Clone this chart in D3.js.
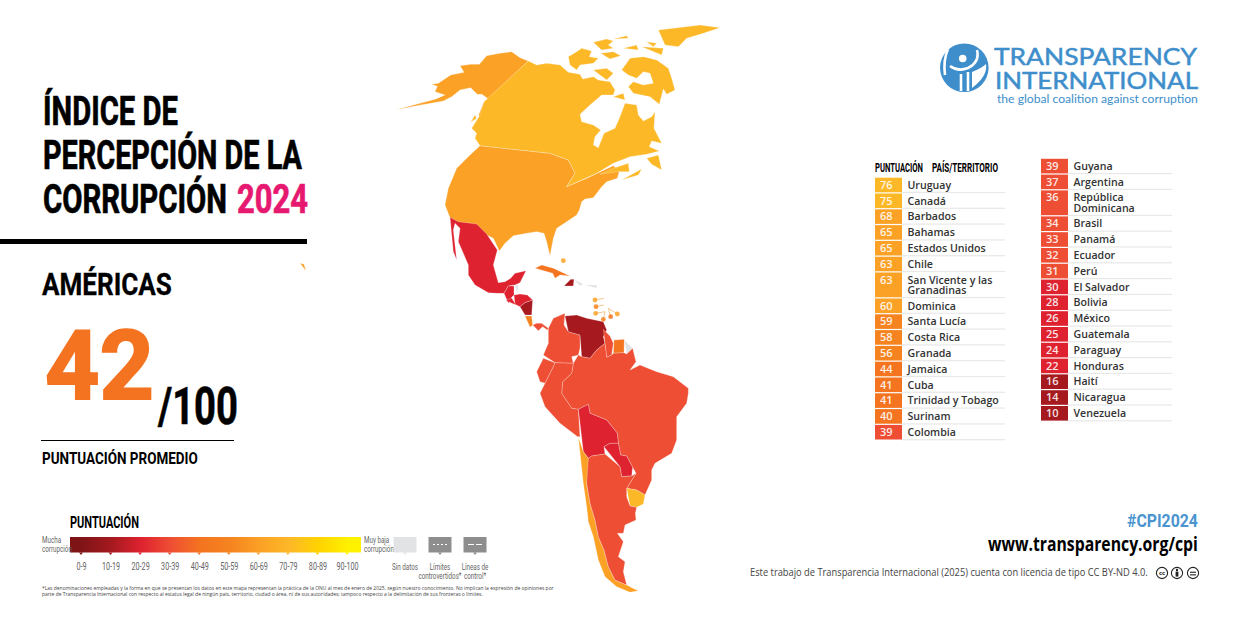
<!DOCTYPE html>
<html lang="es">
<head>
<meta charset="utf-8">
<title>Índice de Percepción de la Corrupción 2024 - Américas</title>
<script src="https://cdn.jsdelivr.net/npm/d3@7"></script>
<style>
  html, body { margin: 0; background: #fff; }
  svg { display: block; }
</style>
</head>
<body>
<svg id="chart" width="1238" height="620"></svg>
<script>
// tabla
const leftNames = ["Uruguay", "Canadá", "Barbados", "Bahamas", "Estados Unidos", "Chile", "San Vicente y las\nGranadinas", "Dominica", "Santa Lucía", "Costa Rica", "Granada", "Jamaica", "Cuba", "Trinidad y Tobago", "Surinam", "Colombia"];
const leftScores = [76, 75, 68, 65, 65, 63, 63, 60, 59, 58, 56, 44, 41, 41, 40, 39];
const rightNames = ["Guyana", "Argentina", "República\nDominicana", "Brasil", "Panamá", "Ecuador", "Perú", "El Salvador", "Bolivia", "México", "Guatemala", "Paraguay", "Honduras", "Haití", "Nicaragua", "Venezuela"];
const rightScores = [39, 37, 36, 34, 33, 32, 31, 30, 28, 26, 25, 24, 22, 16, 14, 10];

// leyenda
const legendLabels = ["0-9", "10-19", "20-29", "30-39", "40-49", "50-59", "60-69", "70-79", "80-89", "90-100"];
const binColors = ["#7f1416", "#a5191f", "#de2230", "#ee4e33", "#f4741f", "#f58420", "#fba126", "#fdb827", "#ffd400", "#fff200"];
const binBreaks = [10, 20, 31, 40, 50, 60, 70, 80, 90];

// contornos del mapa (rejilla propia del mapa)
const shapes = [
  ["Estados Unidos", [[445,138],[420,128],[395,110],[360,115],[320,122],[298,148],[272,148],[240,152],[252,172],[212,180],[175,205],[155,208],[172,214],[165,230],[195,240],[168,252],[120,265],[48,284],[110,272],[190,258],[215,245],[240,225],[272,218],[292,238],[306,238],[325,252],[318,275],[300,310],[296,300],[310,265],[306,238]]],
  ["Estados Unidos", [[300,392],[510,415],[565,435],[585,475],[560,515],[620,490],[700,452],[718,468],[712,490],[680,500],[665,515],[640,548],[615,552],[605,560],[598,585],[590,600],[560,620],[530,640],[520,670],[510,722],[500,680],[492,655],[470,650],[440,655],[400,662],[375,685],[358,708],[340,670],[320,660],[290,630],[235,622],[210,608],[195,570],[205,520],[230,460],[270,420],[290,412]]],
  ["Estados Unidos", [[-240,745],[-228,748],[-222,768],[-232,762]]],
  ["Estados Unidos", [[2530,172],[2555,172],[2545,176]]],
  ["Canadá", [[445,138],[470,150],[500,145],[540,150],[565,172],[600,178],[608,192],[640,185],[655,195],[690,200],[705,225],[700,240],[665,240],[630,270],[600,298],[605,320],[640,330],[662,345],[645,365],[640,390],[655,398],[672,355],[705,340],[718,310],[735,265],[770,270],[775,300],[790,318],[815,305],[825,290],[822,340],[845,385],[815,378],[808,395],[838,408],[800,418],[750,425],[700,445],[650,475],[605,495],[560,515],[585,475],[565,435],[510,415],[300,392],[285,370],[290,355],[275,340],[300,300],[312,260],[306,238]]],
  ["Canadá", [[272,322],[285,300],[290,310],[278,332]]],
  ["Canadá", [[565,125],[590,110],[605,100],[635,108],[628,125],[655,130],[640,145],[600,150],[590,165],[570,150],[580,135]]],
  ["Canadá", [[640,165],[680,160],[700,175],[680,195],[650,180]]],
  ["Canadá", [[640,82],[680,72],[700,78],[685,90],[700,100],[665,105],[650,95]]],
  ["Canadá", [[662,115],[700,110],[722,122],[690,132],[668,128]]],
  ["Canadá", [[700,72],[740,62],[745,70],[720,85]]],
  ["Canadá", [[730,100],[770,90],[775,105],[740,115]]],
  ["Canadá", [[770,60],[785,60],[780,75]]],
  ["Canadá", [[785,95],[850,100],[845,120],[790,115]]],
  ["Canadá", [[835,45],[880,40],[960,30],[1020,38],[970,55],[920,70],[895,95],[855,90],[830,70]]],
  ["Canadá", [[800,80],[830,85],[820,95],[795,90]]],
  ["Canadá", [[750,130],[790,125],[830,135],[865,160],[875,190],[885,225],[860,238],[850,222],[838,268],[810,245],[785,240],[760,235],[745,215],[760,200],[790,210],[820,205],[810,175],[790,170],[770,190],[745,180],[725,165],[735,145]]],
  ["Canadá", [[700,245],[730,235],[735,255],[710,262]]],
  ["Canadá", [[800,430],[835,420],[845,465],[815,448],[800,455]]],
  ["Canadá", [[725,495],[770,470],[785,462],[775,480],[730,500]]],
  ["Canadá", [[660,478],[700,460],[745,445],[748,470],[712,470],[700,452]]],
  ["México", [[210,607],[235,620],[290,627],[320,657],[352,705],[340,750],[355,803],[375,800],[392,790],[405,775],[438,767],[420,803],[405,810],[385,813],[372,835],[350,835],[325,833],[285,810],[265,780],[265,750],[235,680],[240,640],[225,625],[220,645],[230,735],[220,710],[205,675]]],
  ["Guatemala", [[372,835],[385,813],[402,813],[402,840],[395,847],[385,865],[370,857]]],
  ["Belice", [[405,810],[415,810],[412,837],[404,840]]],
  ["Honduras", [[402,840],[420,837],[442,840],[458,855],[435,863],[420,875],[405,868],[395,850]]],
  ["El Salvador", [[378,857],[395,849],[408,870],[392,870]]],
  ["Nicaragua", [[420,875],[435,863],[458,855],[455,900],[435,900],[415,883]]],
  ["Costa Rica", [[435,903],[455,903],[458,930],[450,937],[430,920]]],
  ["Panamá", [[458,930],[470,925],[485,925],[505,940],[502,945],[488,935],[475,947],[462,940]]],
  ["Colombia", [[505,940],[520,910],[555,895],[552,930],[565,950],[600,960],[600,1000],[595,1020],[575,1025],[580,1045],[525,1043],[490,1020],[505,985],[500,960]]],
  ["Venezuela", [[555,903],[590,900],[620,910],[670,920],[680,945],[670,965],[675,985],[650,1005],[630,1030],[605,1025],[600,960],[565,950],[552,930]]],
  ["Guyana", [[670,943],[690,963],[700,985],[695,1020],[680,1027],[675,985],[670,965]]],
  ["Surinam", [[702,975],[733,973],[732,1013],[700,1015],[695,1000]]],
  ["Guayana Francesa", [[733,975],[758,1000],[740,1017],[732,1013]]],
  ["Brasil", [[595,1020],[605,1025],[630,1030],[650,1005],[675,985],[680,1027],[695,1020],[700,1015],[732,1013],[740,1017],[758,1000],[768,1040],[750,1065],[780,1050],[800,1058],[830,1070],[880,1085],[925,1120],[925,1135],[920,1165],[890,1205],[890,1275],[875,1315],[825,1345],[815,1365],[815,1395],[795,1440],[770,1425],[740,1420],[768,1375],[758,1357],[740,1323],[722,1320],[715,1285],[712,1255],[680,1215],[630,1195],[625,1168],[595,1183],[575,1180],[545,1135],[548,1100],[575,1075],[580,1045],[575,1025]]],
  ["Ecuador", [[470,1070],[490,1030],[525,1043],[520,1055],[495,1105],[480,1100],[470,1085]]],
  ["Perú", [[495,1105],[520,1055],[525,1043],[580,1045],[575,1075],[548,1100],[545,1135],[575,1180],[595,1183],[600,1265],[593,1265],[540,1225],[495,1175],[480,1135],[480,1100]]],
  ["Bolivia", [[595,1183],[625,1168],[630,1195],[680,1215],[712,1255],[715,1285],[690,1285],[672,1295],[675,1317],[635,1323],[625,1330],[610,1310],[600,1265]]],
  ["Paraguay", [[672,1295],[690,1285],[715,1285],[722,1320],[740,1323],[758,1357],[755,1383],[725,1385],[720,1355],[675,1317]]],
  ["Uruguay", [[740,1420],[770,1425],[795,1440],[790,1467],[770,1477],[750,1473],[740,1445]]],
  ["Chile", [[595,1267],[610,1310],[625,1330],[628,1355],[620,1405],[630,1465],[645,1515],[655,1565],[672,1605],[685,1655],[705,1695],[740,1710],[775,1727],[750,1732],[710,1715],[675,1685],[655,1635],[640,1565],[625,1520],[620,1475],[610,1405],[600,1325]]],
  ["Argentina", [[625,1330],[635,1323],[675,1317],[720,1355],[725,1385],[755,1383],[768,1375],[740,1420],[740,1445],[750,1473],[770,1477],[766,1495],[768,1515],[735,1530],[730,1555],[712,1555],[730,1580],[715,1625],[735,1640],[730,1670],[740,1710],[705,1695],[685,1655],[672,1605],[655,1565],[645,1515],[630,1465],[620,1405],[628,1355]]],
  ["Argentina", [[750,1715],[778,1727],[760,1725]]],
  ["Cuba", [[465,760],[485,750],[520,760],[570,783],[540,780],[525,790],[518,775],[480,760]]],
  ["Jamaica", [[515,810],[535,813],[525,817]]],
  ["Haití", [[572,793],[582,793],[580,813],[552,813],[570,807]]],
  ["República Dominicana", [[582,793],[610,807],[600,813],[580,813]]],
  ["Puerto Rico", [[615,810],[650,810],[650,820],[620,818]]],
  ["Bahamas", [[530,697],[538,703],[532,715]]],
  ["Bahamas", [[538,713],[548,720],[540,732]]],
  ["Bahamas", [[555,700],[562,712],[555,716]]],
  ["Bahamas", [[565,745],[575,752],[566,757]]],
  ["Bahamas", [[575,765],[585,770],[578,775]]],
  ["Ecuador", [[362,1048],[372,1050],[368,1056]]],
  ["Malvinas", [[805,1685],[820,1683],[815,1690]]]
];

// islas pequeñas marcadas con circulo: [nombre, punto, isla]
const islandDots = [
  ["Bahamas", [550, 737], [550, 737]],
  ["Dominica", [645, 855], [672, 850]],
  ["Santa Lucía", [648, 875], [672, 870]],
  ["San Vicente y las\nGranadinas", [647, 895], [675, 890]],
  ["Granada", [670, 913], [675, 890]],
  ["Trinidad y Tobago", [692, 905], [685, 880]],
  ["Barbados", [712, 897], [685, 880]]
];

const footnotes = [
  "*Las denominaciones empleadas y la forma en que se presentan los datos en este mapa representan la práctica de la ONU al mes de enero de 2025, según nuestro conocimiento. No implican la expresión de opiniones por",
  "parte de Transparencia Internacional con respecto al estatus legal de ningún país, territorio, ciudad o área, ni de sus autoridades; tampoco respecto a la delimitación de sus fronteras o límites."
];

const narrow = "'Liberation Sans Narrow', 'Roboto', sans-serif";
const sans = "'Open Sans', 'Noto Sans', sans-serif";
const svg = d3.select("#chart");
const NODATA = "#e1e3e4";

const color = d3.scaleThreshold().domain(binBreaks).range(binColors);
const scoreOf = new Map(d3.zip(leftNames.concat(rightNames), leftScores.concat(rightScores)));
const countryFill = name => scoreOf.has(name) ? color(scoreOf.get(name)) : NODATA;

// aprieta un texto en horizontal con un transform, para imitar la tipografia condensada
function squeeze(sel, k) {
  sel.each(function () {
    const t = d3.select(this);
    const x = +t.attr("x") || 0;
    const y = +t.attr("y") || 0;
    t.attr("x", 0).attr("y", 0)
      .attr("transform", `translate(${x},${y}) scale(${k},1)`);
  });
}

function label(parent, str, x, y, size, width, opts = {}) {
  const t = parent.append("text")
    .attr("x", x).attr("y", y)
    .attr("font-family", opts.font || narrow)
    .attr("font-size", size)
    .attr("font-weight", opts.weight || "bold")
    .attr("fill", opts.fill || "#000")
    .attr("text-anchor", opts.anchor || "start")
    .text(str);
  if (opts.heavy) t.attr("stroke", opts.fill || "#000").attr("stroke-width", opts.heavy);
  if (width) t.call(squeeze, width / t.node().getComputedTextLength());
  return t;
}

/* Titulo */
label(svg, "ÍNDICE DE", 43, 125, 40, 135, { heavy: 0.7 });
label(svg, "PERCEPCIÓN DE LA", 43, 169, 40, 259, { heavy: 0.7 });
label(svg, "CORRUPCIÓN", 43, 213, 40, 184, { heavy: 0.7 });
label(svg, "2024", 237, 213, 40, 71, { fill: "#e6186f", heavy: 0.7 });
svg.append("rect").attr("x", 0).attr("y", 239).attr("width", 307).attr("height", 5).attr("fill", "#000");

label(svg, "AMÉRICAS", 42, 295, 31, 130, { heavy: 0.3 });
label(svg, "42", 45, 399, 97, 109, { fill: "#f47321", heavy: 2 });
label(svg, "/100", 158, 424, 52, 80, { heavy: 0.6 });
svg.append("rect").attr("x", 41).attr("y", 440).attr("width", 193).attr("height", 1).attr("fill", "#000");
label(svg, "PUNTUACIÓN PROMEDIO", 42, 464, 16, 156);

/* Mapa */
const projection = d3.geoIdentity().scale(1 / 3).translate([380, 15]);
const mapPath = d3.geoPath(projection);
const features = shapes.map(([name, ring]) => ({
  type: "Feature",
  properties: { name },
  geometry: { type: "Polygon", coordinates: [ring] }
}));

const map = svg.append("g");
map.selectAll("path")
  .data(features)
  .enter()
  .append("path")
  .attr("d", mapPath)
  .attr("fill", d => countryFill(d.properties.name))
  .attr("stroke", "#fff")
  .attr("stroke-opacity", 0.5)
  .attr("stroke-width", 0.5)
  .attr("stroke-linejoin", "round");

map.selectAll("line.lead")
  .data(islandDots)
  .enter()
  .append("line")
  .attr("class", "lead")
  .attr("x1", d => projection(d[1])[0])
  .attr("y1", d => projection(d[1])[1])
  .attr("x2", d => projection(d[2])[0])
  .attr("y2", d => projection(d[2])[1])
  .attr("stroke", "#e8a24a")
  .attr("stroke-width", 0.6);

map.selectAll("circle")
  .data(islandDots)
  .enter()
  .append("circle")
  .attr("cx", d => projection(d[1])[0])
  .attr("cy", d => projection(d[1])[1])
  .attr("r", 2.4)
  .attr("fill", d => countryFill(d[0]))
  .attr("fill-opacity", 0.85);

/* Tabla de paises */
label(svg, "PUNTUACIÓN", 875, 172, 12.5, 48);
label(svg, "PAÍS/TERRITORIO", 932, 172, 12.5, 66);

function drawTable(names, scores, cellX, top, lineEnd) {
  let y = top;
  const g = svg.append("g");
  names.forEach((name, i) => {
    const lines = name.split("\n");
    const h = lines.length > 1 ? 26 : 15.8;
    g.append("rect")
      .attr("x", cellX).attr("y", y)
      .attr("width", 27).attr("height", h - 1.2)
      .attr("fill", color(scores[i]));
    g.append("rect")
      .attr("x", cellX + 27).attr("y", y + h - 1.6)
      .attr("width", lineEnd - cellX - 27).attr("height", 1.2)
      .attr("fill", "#e8e8e8");
    label(g, scores[i], cellX + 5, y + 11, 11, 0, { font: sans, weight: 600, fill: "#fff" })
      .attr("opacity", 0.88);
    lines.forEach((ln, k) => {
      label(g, ln, cellX + 32.5, y + 11 + k * 10.4, 10.6, 0, { font: sans, weight: 600, fill: "#333" });
    });
    y += h;
  });
}
drawTable(leftNames, leftScores, 875, 177.7, 1005);
drawTable(rightNames, rightScores, 1041, 158.8, 1172);

/* Leyenda */
label(svg, "PUNTUACIÓN", 70, 528, 16, 69);

const legendX = d3.scalePoint().domain(legendLabels).range([81, 347]);
const gradient = svg.append("defs").append("linearGradient").attr("id", "legend-grad");
const stopAt = d3.scalePoint().domain(binColors).range([0.04, 0.96]);
gradient.selectAll("stop")
  .data(binColors)
  .enter()
  .append("stop")
  .attr("offset", d => stopAt(d))
  .attr("stop-color", d => d);
svg.append("rect")
  .attr("x", 70).attr("y", 537)
  .attr("width", 291).attr("height", 15.5)
  .attr("fill", "url(#legend-grad)");

const legendAxis = d3.axisBottom(legendX).tickSize(0).tickPadding(8.5);
const axisG = svg.append("g").attr("transform", "translate(0,554)").call(legendAxis);
axisG.select(".domain").remove();
axisG.selectAll("text")
  .attr("font-family", narrow)
  .attr("font-size", 10)
  .attr("fill", "#666")
  .call(squeeze, 0.72);

const notch = (x, y, fill) => svg.append("path")
  .attr("d", d3.line()([[x - 2, y], [x + 2, y], [x, y + 2.5]]))
  .attr("fill", fill);
legendLabels.forEach((d, i) => notch(legendX(d), 552.5, binColors[i]));

const smallLabel = (str, x, y, anchor) =>
  label(svg, str, x, y, 9.5, 0, { weight: "normal", fill: "#666", anchor: anchor || "start" }).call(squeeze, 0.66);
smallLabel("Mucha", 42, 543);
smallLabel("corrupción", 42, 551.5);
smallLabel("Muy baja", 364, 543);
smallLabel("corrupción", 364, 551.5);

const legendBoxes = [
  ["Sin datos", 405, NODATA, null],
  ["Límites\ncontrovertidos*", 440, "#8e8e8e", "2 2"],
  ["Líneas de\ncontrol*", 475, "#8e8e8e", "6 2"]
];
legendBoxes.forEach(([txt, cx, fill, dash]) => {
  svg.append("rect").attr("x", cx - 11.5).attr("y", 537).attr("width", 23).attr("height", 15.5).attr("fill", fill);
  notch(cx, 552.5, fill);
  if (dash) {
    svg.append("line")
      .attr("x1", cx - 7).attr("x2", cx + 7).attr("y1", 544.5).attr("y2", 544.5)
      .attr("stroke", "#fff").attr("stroke-width", 1).attr("stroke-dasharray", dash);
  }
  txt.split("\n").forEach((ln, k) => smallLabel(ln, cx, 570 + k * 9, "middle"));
});

footnotes.forEach((ln, i) => {
  label(svg, ln, 42, 590 + i * 6.2, 5.1, i === 0 ? 512 : 442, { font: sans, weight: "normal", fill: "#444" });
});

/* Logo */
const BLUE = "#3e8ecb";
const logo = svg.append("g");
logo.append("circle").attr("cx", 964.3).attr("cy", 67.7).attr("r", 24.3).attr("fill", BLUE);
logo.append("circle").attr("cx", 962.7).attr("cy", 58.5).attr("r", 3.8).attr("fill", "#fff");
[
  "M948 49 Q943 60 945 75",
  "M977 50 Q980 62 968 68 Q958 72 950 66",
  "M968 72 L968 91",
  "M961 74 L961 91"
].forEach(d => {
  logo.append("path").attr("d", d).attr("fill", "none").attr("stroke", "#fff").attr("stroke-width", 2.6);
});
logo.append("path").attr("d", "M972 88 L972 72 Q982 68 986 64 Q988 76 972 88 Z").attr("fill", "#fff");
label(logo, "TRANSPARENCY", 994, 65, 24, 203, { font: "Lato", weight: "normal", fill: BLUE, heavy: 0.5 });
label(logo, "INTERNATIONAL", 995, 88.5, 24, 203, { font: "Lato", weight: "normal", fill: BLUE, heavy: 0.5 });
label(logo, "the global coalition against corruption", 997, 102.5, 12, 201, { font: "Lato", weight: "normal", fill: BLUE });

/* Pie derecho */
label(svg, "#CPI2024", 1127, 527, 19, 71, { fill: "#4a94cf" });
label(svg, "www.transparency.org/cpi", 988, 551, 20, 210, { font: sans, weight: "bold" });
label(svg, "Este trabajo de Transparencia Internacional (2025) cuenta con licencia de tipo CC BY-ND 4.0.", 750, 576, 10.4, 398, { font: sans, weight: "normal", fill: "#444" });

const ccX = [1162, 1177, 1193];
const cc = svg.append("g");
cc.selectAll("circle")
  .data(ccX)
  .enter()
  .append("circle")
  .attr("cx", d => d).attr("cy", 573).attr("r", 5.6)
  .attr("fill", "none").attr("stroke", "#222").attr("stroke-width", 1.1);
label(cc, "cc", ccX[0], 575.3, 6, 0, { font: sans, anchor: "middle", fill: "#222" });
cc.append("circle").attr("cx", ccX[1]).attr("cy", 570).attr("r", 1.2).attr("fill", "#222");
cc.append("rect").attr("x", ccX[1] - 1.4).attr("y", 571.6).attr("width", 2.8).attr("height", 5).attr("fill", "#222");
[571.7, 574.3].forEach(y => {
  cc.append("rect").attr("x", ccX[2] - 3).attr("y", y).attr("width", 6).attr("height", 1.1).attr("fill", "#222");
});
</script>
</body>
</html>
